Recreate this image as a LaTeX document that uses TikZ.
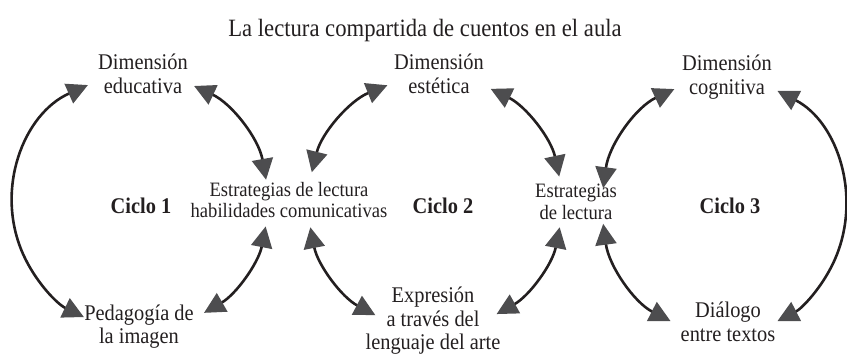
\documentclass[tikz,border=0pt]{standalone}
\usepackage{fontspec}
\setmainfont{Liberation Serif}[FakeStretch=0.91]
\usetikzlibrary{arrows.meta}
\definecolor{ink}{HTML}{231F20}
\definecolor{headgray}{HTML}{4D4D4F}
\tikzset{
  lbl/.style={align=center, text=ink, font=\fontsize{22.5}{23.5}\selectfont, inner sep=0pt},
  strat/.style={lbl, font=\fontsize{20.5}{22}\selectfont},
  cyc/.style={text=ink, font=\fontsize{22.5}{24}\selectfont\bfseries, inner sep=0pt},
  ttl/.style={text=ink, font=\fontsize{25}{27}\selectfont, inner sep=0pt},
  conn/.style={draw=ink, line width=2.6bp,
    {Triangle[length=21bp,width=21bp,color=headgray]}-{Triangle[length=21bp,width=21bp,color=headgray]}}
}
\begin{document}
\begin{tikzpicture}[x=1bp,y=1bp]
\useasboundingbox (0,0) rectangle (847,355);

\node[ttl] (title) at (425,324) {La lectura compartida de cuentos en el aula};

\node[lbl] (educ) at (143,281) {Dimensión\\educativa};
\node[lbl] (ped) at (139,28.5) {Pedagogía de\\la imagen};
\node[strat] (est1) at (289,155) {Estrategias de lectura\\habilidades comunicativas};
\node[cyc] (cic1) at (141,149) {Ciclo 1};

\node[lbl] (estet) at (439,281) {Dimensión\\estética};
\node[lbl] (expr) at (433,34) {Expresión\\a través del\\lenguaje del arte};
\node[strat] (est2) at (576,153) {Estrategias\\de lectura};
\node[cyc] (cic2) at (443,149) {Ciclo 2};

\node[lbl] (cogn) at (727,278) {Dimensión\\cognitiva};
\node[lbl] (dial) at (728,33) {Diálogo\\entre textos};
\node[cyc] (cic3) at (730,149) {Ciclo 3};

\coordinate (c1) at (140,153);
\coordinate (c2) at (435,152);
\coordinate (c3) at (724,149);

% Ciclo 1
\draw[conn] ([shift={(114:128)}]c1) arc[start angle=114, end angle=244, radius=128];
\draw[conn] ([shift={(65:128)}]c1) arc[start angle=65, end angle=10, radius=128];
\draw[conn] ([shift={(-11:128)}]c1) arc[start angle=-11, end angle=-60, radius=128];

% Ciclo 2
\draw[conn] ([shift={(166:127)}]c2) arc[start angle=166, end angle=112, radius=127];
\draw[conn] ([shift={(64:127)}]c2) arc[start angle=64, end angle=12, radius=127];
\draw[conn] ([shift={(-11:127)}]c2) arc[start angle=-11, end angle=-61, radius=127];
\draw[conn] ([shift={(242:127)}]c2) arc[start angle=242, end angle=191, radius=127];

% Ciclo 3
\draw[conn] ([shift={(172:122 and 128)}]c3) arc[start angle=172, end angle=114, x radius=122, y radius=128];
\draw[conn] ([shift={(64:122 and 128)}]c3) arc[start angle=64, end angle=-64, x radius=122, y radius=128];
\draw[conn] ([shift={(188:122 and 128)}]c3) arc[start angle=188, end angle=244, x radius=122, y radius=128];
\end{tikzpicture}
\end{document}
